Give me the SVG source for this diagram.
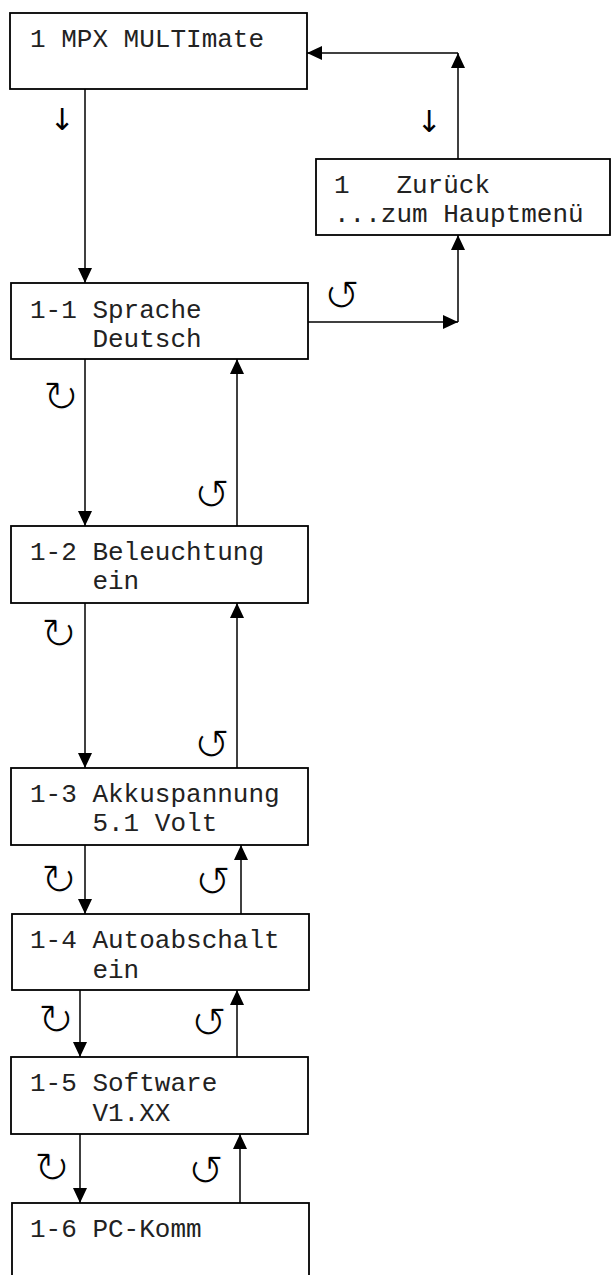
<svg xmlns="http://www.w3.org/2000/svg" width="611" height="1275" viewBox="0 0 611 1275">
<style>
.box{fill:#fff;stroke:#000;stroke-width:1.8}
.t{font-family:"Liberation Mono","Courier New",monospace;font-size:26px;fill:#222}
.c{fill:none;stroke:#000;stroke-width:1.5}
.sym{font-family:"DejaVu Sans",sans-serif;font-size:44px;fill:#000;stroke:#fff;stroke-width:1.3px;text-anchor:middle}
.dn{font-family:"DejaVu Sans",sans-serif;font-size:30px;fill:#000;text-anchor:middle}
</style>
<defs>
<marker id="ah" markerUnits="userSpaceOnUse" markerWidth="16" markerHeight="14" refX="15" refY="7" orient="auto">
<path d="M0,0 L15,7 L0,14 z" fill="#000"/>
</marker>
</defs>
<g id="connectors">
<path class="c" d="M85,89 V283" marker-end="url(#ah)"/>
<path class="c" d="M458,159 V53" marker-end="url(#ah)"/>
<path class="c" d="M458,53 H307" marker-end="url(#ah)"/>
<path class="c" d="M308,322 H458" marker-end="url(#ah)"/>
<path class="c" d="M458,322 V235" marker-end="url(#ah)"/>
<path class="c" d="M85,359 V526" marker-end="url(#ah)"/>
<path class="c" d="M237,526 V359" marker-end="url(#ah)"/>
<path class="c" d="M85,603 V768" marker-end="url(#ah)"/>
<path class="c" d="M237,768 V603" marker-end="url(#ah)"/>
<path class="c" d="M85,845 V914" marker-end="url(#ah)"/>
<path class="c" d="M241,914 V845" marker-end="url(#ah)"/>
<path class="c" d="M80,990 V1057" marker-end="url(#ah)"/>
<path class="c" d="M237,1057 V990" marker-end="url(#ah)"/>
<path class="c" d="M80,1134 V1203" marker-end="url(#ah)"/>
<path class="c" d="M240,1203 V1134" marker-end="url(#ah)"/>
<text class="dn" x="62" y="130">↓</text>
<text class="dn" x="429" y="132">↓</text>
<text class="sym" x="342" y="311">↺</text>
<text class="sym" x="61" y="412">↻</text>
<text class="sym" x="212" y="510">↺</text>
<text class="sym" x="59" y="649">↻</text>
<text class="sym" x="212" y="760">↺</text>
<text class="sym" x="59" y="895">↻</text>
<text class="sym" x="213" y="897">↺</text>
<text class="sym" x="56" y="1035">↻</text>
<text class="sym" x="209" y="1038">↺</text>
<text class="sym" x="52" y="1183">↻</text>
<text class="sym" x="206" y="1186">↺</text>
</g>
<g id="n1">
<rect class="box" x="10" y="13" width="297" height="76"/>
<text class="t" x="30" y="47" xml:space="preserve">1 MPX MULTImate</text>
</g>
<g id="nBack">
<rect class="box" x="316" y="159" width="294" height="76"/>
<text class="t" x="334" y="193" xml:space="preserve">1   Zurück</text>
<text class="t" x="334" y="222" xml:space="preserve">...zum Hauptmenü</text>
</g>
<g id="n1-1">
<rect class="box" x="11" y="283" width="297" height="76"/>
<text class="t" x="30" y="318" xml:space="preserve">1-1 Sprache</text>
<text class="t" x="30" y="347" xml:space="preserve">    Deutsch</text>
</g>
<g id="n1-2">
<rect class="box" x="11" y="526" width="297" height="77"/>
<text class="t" x="30" y="560" xml:space="preserve">1-2 Beleuchtung</text>
<text class="t" x="30" y="589" xml:space="preserve">    ein</text>
</g>
<g id="n1-3">
<rect class="box" x="11" y="768" width="297" height="77"/>
<text class="t" x="30" y="802" xml:space="preserve">1-3 Akkuspannung</text>
<text class="t" x="30" y="831" xml:space="preserve">    5.1 Volt</text>
</g>
<g id="n1-4">
<rect class="box" x="12" y="914" width="297" height="76"/>
<text class="t" x="30" y="948" xml:space="preserve">1-4 Autoabschalt</text>
<text class="t" x="30" y="978" xml:space="preserve">    ein</text>
</g>
<g id="n1-5">
<rect class="box" x="11" y="1057" width="297" height="77"/>
<text class="t" x="30" y="1091" xml:space="preserve">1-5 Software</text>
<text class="t" x="30" y="1121" xml:space="preserve">    V1.XX</text>
</g>
<g id="n1-6">
<rect class="box" x="12" y="1203" width="297" height="90"/>
<text class="t" x="30" y="1237" xml:space="preserve">1-6 PC-Komm</text>
</g>
</svg>
